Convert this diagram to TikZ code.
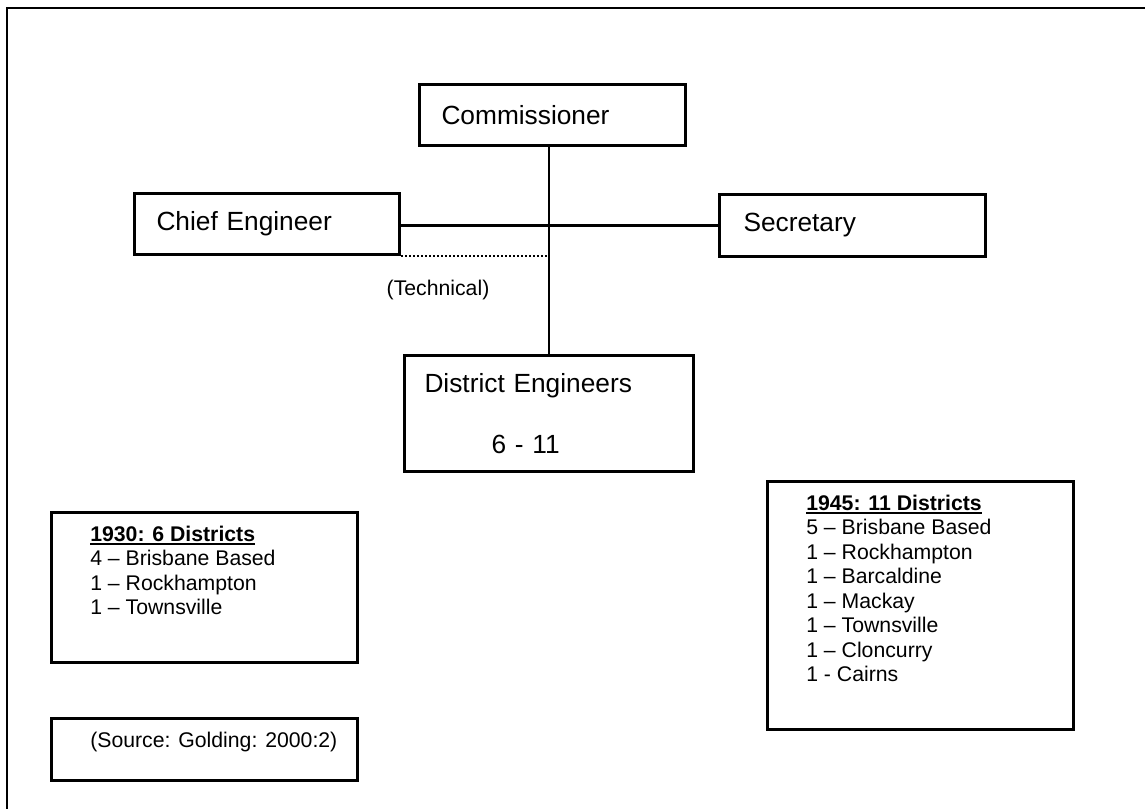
\documentclass[tikz,border=0pt]{standalone}
\usepackage{fontspec}
\setmainfont{Liberation Sans}
\usepackage{tikz}
\usetikzlibrary{positioning}
\newcommand{\distheading}[1]{\leavevmode\setbox0\hbox{\textbf{#1}}\rlap{\rule[-0.95mm]{\wd0}{0.45mm}}\box0}
\tikzstyle{post} = [
    rectangle, draw=black, line width=0.75mm, anchor=north west, align=left,
    inner xsep=5.5mm, font=\fontsize{18.7}{22.4}\selectfont]
\tikzstyle{note} = [
    rectangle, draw=black, line width=0.65mm, anchor=north west,
    inner xsep=9.75mm, inner ysep=3.4mm, font=\fontsize{15.1}{17.4}\selectfont]
\tikzstyle{link} = [line width=0.55mm]

\begin{document}
\begin{tikzpicture}[x=0.25mm,y=-0.25mm]
\useasboundingbox (0,0) rectangle (1145,809);
\draw [line width=0.7mm] (7,8) rectangle (1160,830);

\node (commissioner) [post, text width=55.5mm, minimum height=15.25mm] at (418,83) {Commissioner};

\node (chief) [post, text width=55.25mm, minimum height=15.25mm] at (133,192) {Chief Engineer};

\node (secretary) [post, inner xsep=6mm, text width=54.5mm, minimum height=15.5mm] at (718,193) {Secretary};

\node (district) [post, inner xsep=5mm, text width=62.25mm, minimum height=29mm] at (403,354) {
    District Engineers \\[7.4mm]
    \hspace*{16.75mm}6 - 11
};

\node (technical) [font=\fontsize{15.1}{17.4}\selectfont] at (438,290) {(Technical)};

\node (d1930) [note] at (50,511) {\parbox[c][30.7mm][t]{57mm}{\raggedright
    \distheading{1930: 6 Districts} \\
    4 -- Brisbane Based \\
    1 -- Rockhampton \\
    1 -- Townsville
}};

\node (source) [note] at (50,717) {\parbox[c][8.7mm][t]{57mm}{\raggedright
    \mbox{(Source: Golding: 2000:2)}
}};

\node (d1945) [note] at (766,480) {\parbox[c][55.2mm][t]{57mm}{\raggedright
    \distheading{1945: 11 Districts} \\
    5 -- Brisbane Based \\
    1 -- Rockhampton \\
    1 -- Barcaldine \\
    1 -- Mackay \\
    1 -- Townsville \\
    1 -- Cloncurry \\
    1 - Cairns
}};

\draw [link] (district.north |- commissioner.south) -- (district.north);
\draw [link] (secretary.west -| chief.east) -- (secretary.west);
\draw [line width=0.6mm, dash pattern=on 0.5mm off 0.5mm] (chief.south east) -- (chief.south east -| district.north);
\end{tikzpicture}
\end{document}
